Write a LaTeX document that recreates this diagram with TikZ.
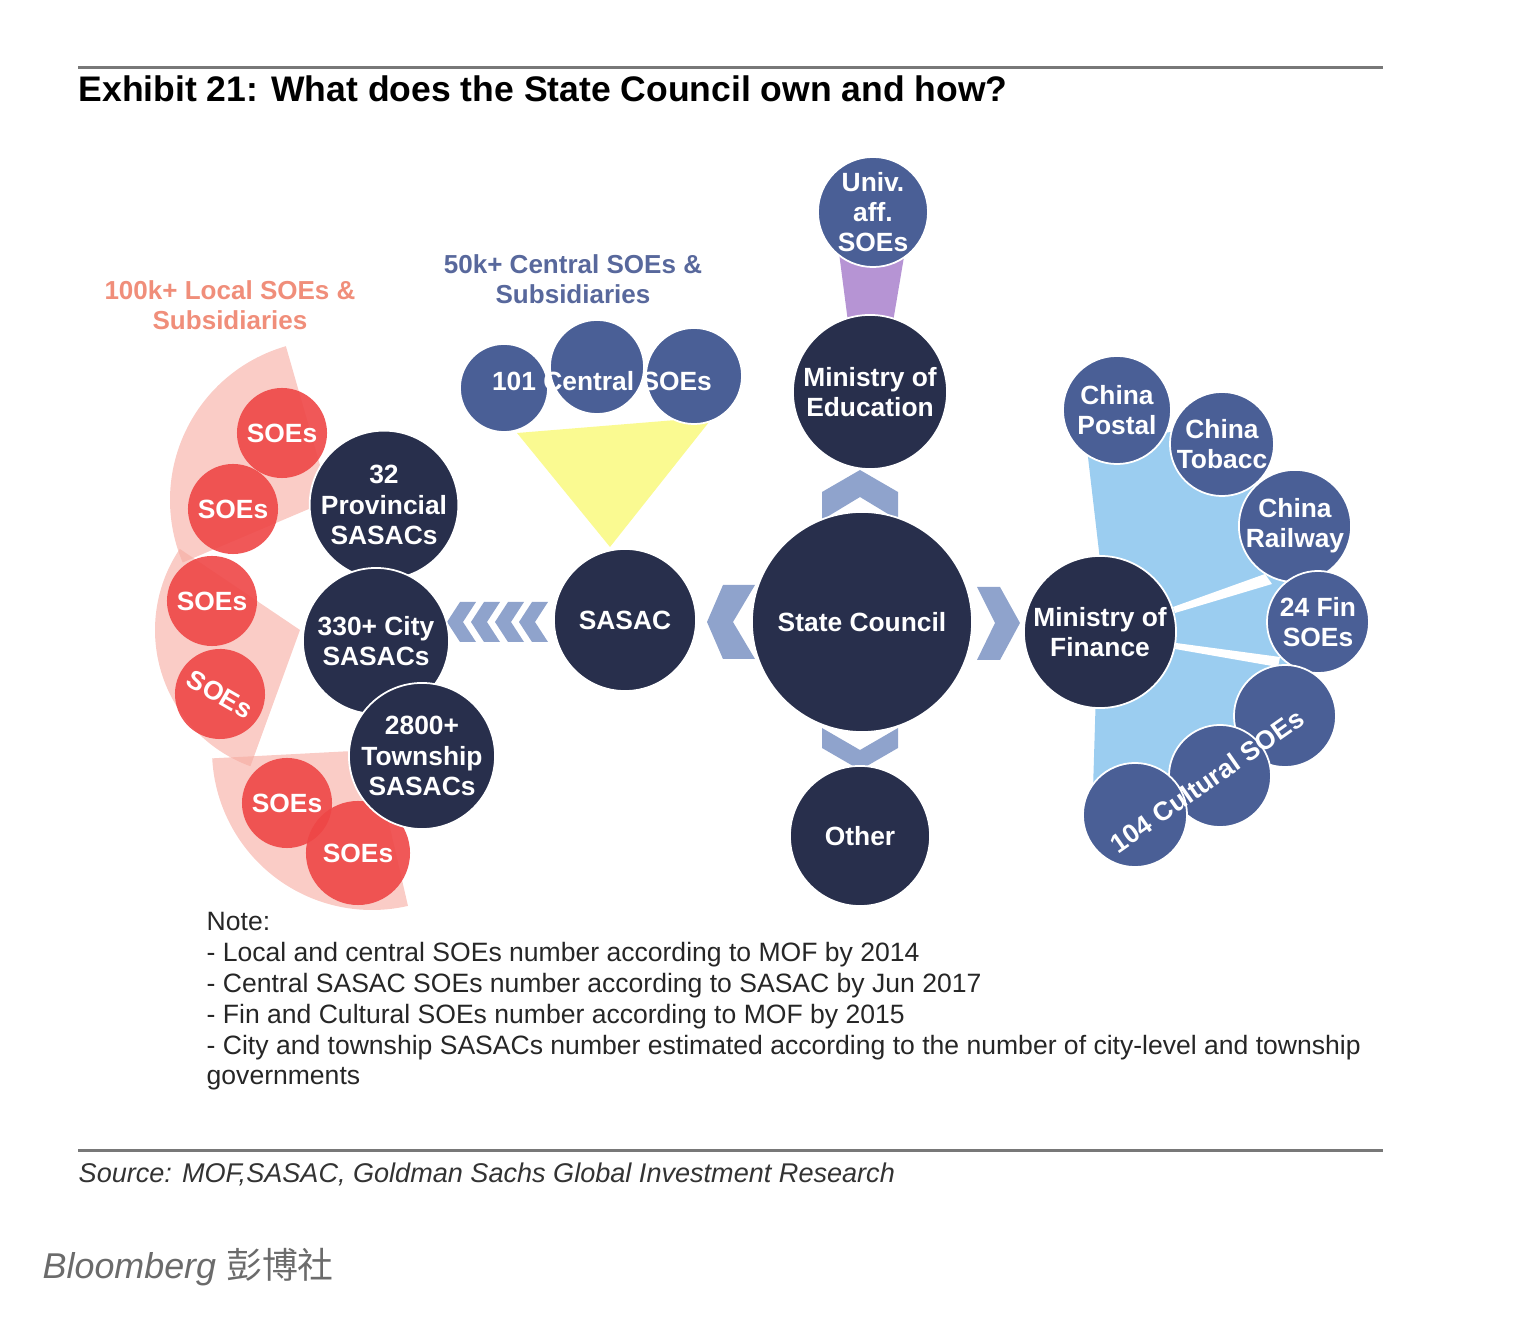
\documentclass[tikz,border=0pt]{standalone}
\usepackage{fontspec}
\setmainfont{Liberation Sans}
\newfontfamily\cjkfont{Noto Sans CJK SC}
\usetikzlibrary{calc}
\definecolor{navy}{RGB}{40,47,76}
\definecolor{soeblue}{RGB}{74,95,150}
\definecolor{chevron}{RGB}{143,163,204}
\definecolor{fanblue}{RGB}{155,205,240}
\definecolor{lemon}{RGB}{250,250,145}
\definecolor{lilac}{RGB}{182,148,212}
\definecolor{soered}{RGB}{238,70,70}
\definecolor{wedge}{RGB}{246,170,160}
\definecolor{salmon}{RGB}{240,142,122}
\definecolor{slate}{RGB}{88,104,156}
\definecolor{rulegray}{RGB}{120,120,120}

\begin{document}
\begin{tikzpicture}[x=0.01cm,y=-0.01cm,
    owner/.style={circle,fill=navy,draw=white,line width=0.5pt,text=white,inner sep=0pt,align=center,font=\bfseries\fontsize{7.5}{8.6}\selectfont},
    firm/.style={circle,fill=soeblue,draw=white,line width=0.5pt,text=white,inner sep=0pt,align=center,font=\bfseries\fontsize{7.5}{8.6}\selectfont},
    local/.style={circle,fill=soered,fill opacity=0.9,text opacity=1,text=white,inner sep=0pt,minimum size=0.9cm,font=\bfseries\fontsize{7.5}{8.6}\selectfont},
    chev/.style={fill=chevron},
    grouptxt/.style={align=center,font=\bfseries\fontsize{7.4}{8.6}\selectfont},
    notes/.style={anchor=base west,inner sep=0pt,text=black!85,font=\fontsize{7.55}{9}\selectfont}
  ]
  \useasboundingbox (0,0) rectangle (1523,1322);

  % title and rules
  \draw[rulegray,line width=0.03cm] (78,68) -- (1383,68);
  \node[anchor=base west,inner sep=0pt,font=\bfseries\fontsize{10.1}{12}\selectfont] (title) at (78,102) {Exhibit 21: What does the State Council own and how?};
  \draw[rulegray,line width=0.03cm] (78,1151) -- (1383,1151);

  % local side
  \fill[wedge,fill opacity=0.6] (330,500) -- ++(-106:160) arc[start angle=-106,end angle=-203,radius=160] -- cycle;
  \fill[wedge,fill opacity=0.6] (300,630) -- ++(-146:145) arc[start angle=-146,end angle=-250,radius=145] -- cycle;
  \fill[wedge,fill opacity=0.6] (372,750) -- ++(-183:160) arc[start angle=-183,end angle=-283,radius=160] -- cycle;

  \node[local] (soe1) at (282,433) {SOEs};
  \node[local] (soe2) at (233,509) {SOEs};
  \node[local] (soe3) at (212,601) {SOEs};
  \node[local,rotate=-30] (soe4) at (220,694) {SOEs};
  \node[local] (soe5) at (287,803) {SOEs};
  \node[local,minimum size=1.04cm] (soe6) at (358,853) {SOEs};

  \node[grouptxt,text=salmon] (localtxt) at (230,305) {100k+ Local SOEs \&\\Subsidiaries};
  \node[grouptxt,text=slate] (centraltxt) at (573,279) {50k+ Central SOEs \&\\Subsidiaries};

  % finance fan
  \fill[fanblue] (1086,440) -- (1172,432) -- (1265,490) -- (1300,575) -- (1305,670) -- (1250,745)
    -- (1180,790) -- (1093,790) -- (1100,560) -- cycle;
  \fill[white] (1173,607) -- (1265,574) -- (1272,584) -- (1175,613) -- cycle;
  \fill[white] (1176,643) -- (1280,657) -- (1278,667) -- (1175,649) -- cycle;

  \fill[lemon] (517,433) -- (713,417) -- (610,547) -- cycle;
  \fill[lilac] (838,245) -- (906,245) -- (893,322) -- (848,322) -- cycle;

  % chevrons
  \fill[chev] (822,520) -- (822,492) -- (860,470) -- (898,492) -- (898,520) -- (860,497) -- cycle;
  \fill[chev] (822,728) -- (860,750) -- (898,728) -- (898,748) -- (860,770) -- (822,748) -- cycle;
  \fill[chev] (723,585) -- (755,585) -- (733,622) -- (755,659) -- (723,659) -- (707,622) -- cycle;
  \fill[chev] (977,587) -- (1000,587) -- (1020,623) -- (1000,660) -- (977,660) -- (995,623) -- cycle;
  \foreach \t in {447,471,495,519}
    \fill[chev] (\t,622) -- (\t+13,602) -- (\t+29,602) -- (\t+16,622) -- (\t+29,642) -- (\t+13,642) -- cycle;

  % owners
  \node[owner,minimum size=2.2cm] (council) at (862,622) {State Council};
  \node[owner,minimum size=1.42cm] (sasac) at (625,620) {SASAC};
  \node[owner,minimum size=1.54cm] (moe) at (870,392) {Ministry of\\Education};
  \node[owner,minimum size=1.4cm] (other) at (860,836) {Other};
  \node[owner,minimum size=1.52cm] (mof) at (1100,632) {Ministry of\\Finance};
  \node[owner,minimum size=1.36cm] (prov) at (384,505) {32\\Provincial\\SASACs};
  \node[owner,minimum size=1.46cm] (city) at (376,641) {330+ City\\SASACs};
  \node[owner,minimum size=1.46cm] (town) at (422,756) {2800+\\Township\\SASACs};

  % owned firms
  \node[firm,minimum size=1.1cm] (univ) at (873,212) {Univ.\\aff.\\SOEs};
  \node[firm,minimum size=0.94cm] (cso2) at (597,367) {};
  \node[firm,minimum size=0.88cm] (cso1) at (504,388) {};
  \node[firm,minimum size=0.96cm] (cso3) at (694,376) {};
  \node[text=white,font=\bfseries\fontsize{7.5}{8.6}\selectfont] (csotxt) at (602,381) {101 Central SOEs};

  \node[firm,minimum size=1.08cm] (postal) at (1117,410) {China\\Postal};
  \node[firm,minimum size=1.04cm] (tobacco) at (1222,444) {China\\Tobacc};
  \node[firm,minimum size=1.02cm] (railway) at (1295,526) {China\\Railway};
  \node[firm,minimum size=1.02cm] (finsoe) at (1318,622) {24 Fin\\SOEs};
  \node[firm,minimum size=1.02cm] (cult3) at (1285,716) {};
  \node[firm,minimum size=1.02cm] (cult2) at (1220,776) {};
  \node[firm,minimum size=1.04cm] (cult1) at (1135,815) {};
  \node[rotate=35,text=white,font=\bfseries\fontsize{7.5}{8.6}\selectfont] (culttxt) at (1207,781) {104 Cultural SOEs};

  % notes
  \node[notes] (note0) at (206,931) {Note:};
  \node[notes] (note1) at (206,962) {- Local and central SOEs number according to MOF by 2014};
  \node[notes] (note2) at (206,993) {- Central SASAC SOEs number according to SASAC by Jun 2017};
  \node[notes] (note3) at (206,1024) {- Fin and Cultural SOEs number according to MOF by 2015};
  \node[notes] (note4) at (206,1055) {- City and township SASACs number estimated according to the number of city-level and township};
  \node[notes] (note5) at (206,1085) {governments};

  \node[anchor=base west,inner sep=0pt,text=black!80,font=\itshape\fontsize{7.7}{9}\selectfont] (source) at (78,1183) {Source: MOF,SASAC, Goldman Sachs Global Investment Research};
  \node[anchor=base west,inner sep=0pt,text=black!58,font=\fontsize{10.2}{12}\selectfont] (brand) at (42,1279) {\itshape Bloomberg \upshape\cjkfont 彭博社};
\end{tikzpicture}
\end{document}
